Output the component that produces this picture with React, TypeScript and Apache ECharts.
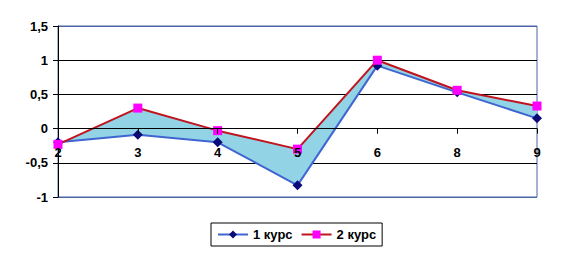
import React, { useEffect, useRef } from "react";
import * as echarts from "echarts";

const categories = ["2", "3", "4", "5", "6", "8", "9"];
const course1 = [-0.2, -0.09, -0.2, -0.83, 0.92, 0.53, 0.15];
const course2 = [-0.23, 0.3, -0.03, -0.3, 1.0, 0.56, 0.33];
const seriesNames = ["1 курс", "2 курс"];

export default function App() {
  const ref = useRef<HTMLDivElement>(null);
  useEffect(() => {
    if (!ref.current) return;
    const chart = echarts.init(ref.current, null, { renderer: "svg" });
    const diff = course2.map((v, i) => +(v - course1[i]).toFixed(4));
    const font = { fontFamily: "Liberation Sans, Arial, sans-serif", fontWeight: "bold" as const, fontSize: 13, color: "#000" };
    chart.setOption({
      animation: false,
      backgroundColor: "#fff",
      grid: {
        left: 58,
        right: 35,
        top: 26,
        bottom: 72,
        show: true,
        borderColor: "#4a64a8",
        borderWidth: 1,
        containLabel: false,
      },
      legend: {
        bottom: 23,
        left: 211,
        itemWidth: 30,
        itemHeight: 10,
        itemGap: 8,
        padding: [5, 6, 5, 6],
        borderColor: "#000",
        borderWidth: 1,
        textStyle: { ...font, fontSize: 13 },
        data: seriesNames,
      },
      xAxis: {
        type: "category",
        data: categories,
        boundaryGap: false,
        position: "bottom",
        offset: -68.3,
        axisLine: { onZero: false, lineStyle: { color: "#000", width: 1 } },
        axisTick: { show: true, length: 5, inside: false, lineStyle: { color: "#000" } },
        axisLabel: { ...font, margin: 17 },
        splitLine: { show: false },
        z: 5,
      },
      yAxis: {
        type: "value",
        min: -1,
        max: 1.5,
        interval: 0.5,
        axisLine: { show: true, lineStyle: { color: "#000" } },
        axisTick: { show: true, length: 5, lineStyle: { color: "#000" } },
        axisLabel: {
          ...font,
          margin: 10,
          formatter: (v: number) => String(v).replace(".", ","),
        },
        splitLine: {
          show: true,
          lineStyle: { color: ["#4a64a8", "#000", "#000", "#000", "#000", "#4a64a8"], width: 1 },
        },
      },
      series: [
        {
          name: "base",
          type: "line",
          stack: "band",
          stackStrategy: "all",
          data: course1,
          symbol: "none",
          lineStyle: { opacity: 0 },
          silent: true,
          z: 1,
        },
        {
          name: "band",
          type: "line",
          stack: "band",
          stackStrategy: "all",
          data: diff,
          symbol: "none",
          lineStyle: { opacity: 0 },
          areaStyle: { color: "#93d3e6", opacity: 1 },
          silent: true,
          z: 1,
        },
        {
          name: seriesNames[0],
          type: "line",
          data: course1,
          symbol: "diamond",
          symbolSize: 10,
          itemStyle: { color: "#0a0a78" },
          lineStyle: { color: "#3f66d0", width: 2 },
          z: 3,
        },
        {
          name: seriesNames[1],
          type: "line",
          data: course2,
          symbol: "rect",
          symbolSize: 9,
          itemStyle: { color: "#ff00ff" },
          lineStyle: { color: "#c0141e", width: 2 },
          z: 4,
        },
      ],
    });
    return () => chart.dispose();
  }, []);
  return <div ref={ref} style={{ width: 572, height: 269, position: "absolute", left: 0, top: 0 }} />;
}
